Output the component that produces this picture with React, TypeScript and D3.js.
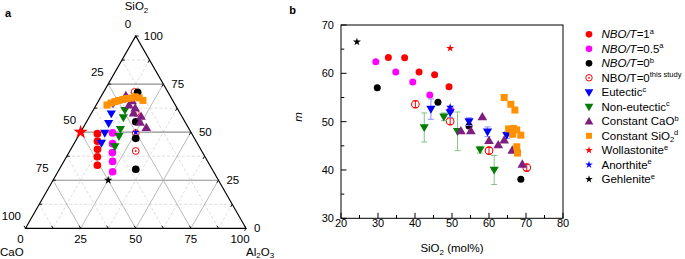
import React from 'react';
import * as d3 from 'd3';

// ---------- Panel a: ternary data [CaO, SiO2, Al2O3] (mol%) ----------
const terNbo1: number[][] = [[42.8, 49.2, 8.0], [44.7, 45.3, 10.0], [46.8, 41.1, 12.1], [48.8, 37.2, 14.0], [51.0, 32.8, 16.2]];
const terNbo05: number[][] = [[35.7, 49.6, 14.7], [38.5, 44.0, 17.5], [40.9, 39.4, 19.7], [43.1, 34.8, 22.1], [45.8, 29.4, 24.8]];
const terNbo0: number[][] = [[13.8, 70.7, 15.5], [22.3, 55.4, 22.3], [26.6, 46.8, 26.6], [34.65, 30.7, 34.65]];
const terThis: number[][] = [[15.1, 70.9, 14.0], [20, 60, 20], [25.25, 49.5, 25.25], [29.9, 40.2, 29.9]];
const terEut: number[][] = [[27.9, 64.8, 7.3], [31.3, 59.6, 9.1], [35.0, 54.6, 10.4], [39.3, 49.5, 11.2], [43.4, 44.3, 12.3]];
const terNonEut: number[][] = [[24.2, 61.4, 14.4], [26.8, 57.6, 15.6], [31.2, 51.5, 17.3], [33.7, 47.8, 18.5], [38.2, 42.5, 19.3]];
const terCaO: number[][] = [[20, 69, 11], [18.5, 66.3, 15.2], [21, 64.1, 14.9], [19, 62.5, 18.5], [21, 60, 19], [18.5, 58.2, 23.3], [20.5, 55.1, 24.4], [19, 52.4, 28.6]];
const terSiO2: number[][] = [[31.0, 64.1, 4.9], [28.7, 65.1, 6.2], [26.5, 65.9, 7.6], [24.4, 66.5, 9.1], [22.3, 67.0, 10.7], [20.2, 67.5, 12.3], [18.3, 67.7, 14.0], [16.1, 68.4, 15.5], [14.6, 67.8, 17.6], [13.5, 66.5, 20.0]];
const terWoll: number[] = [50, 50, 0];
const terAnor: number[] = [25, 50, 25];
const terGehl: number[] = [50, 25, 25];
const terTicks = [0, 25, 50, 75, 100];
const terGrid = [12.5, 25, 37.5, 50, 62.5, 75, 87.5];

// ---------- Panel b: SiO2 (mol%) vs m ----------
const bNbo1X = [32.8, 37.2, 41.1, 45.3, 49.2];
const bNbo1M = [63.3, 63.2, 60.3, 59.7, 57.2];
const bNbo05X = [29.4, 34.8, 39.4, 44.0, 49.6];
const bNbo05M = [62.4, 60.3, 58.2, 55.5, 52.4];
const bNbo0X = [29.8, 46.2, 54.6, 68.6];
const bNbo0M = [57.0, 54.0, 49.1, 38.1];
const bThisX = [40.1, 49.5, 60.0, 70.2];
const bThisM = [53.6, 50.1, 44.0, 40.5];
const bThisErr = [0.7, 0.7, 0.7, 0.7];
const bEutX = [44.3, 49.5, 54.6, 59.6, 64.8];
const bEutM = [52.6, 51.9, 50.0, 47.9, 47.2];
const bEutErr = [2.1, 1.0, 0.8, 1.0, 0.7];
const bNonX = [42.5, 47.8, 51.5, 57.6, 61.4];
const bNonM = [48.8, 51.0, 48.0, 44.2, 40.0];
const bNonErr = [3.0, 0.8, 4.0, 0.7, 3.0];
const bCaOX = [52.4, 55.1, 58.2, 60.0, 62.5, 64.1, 66.3, 69.0];
const bCaOM = [48.1, 48.1, 51.0, 46.1, 45.2, 46.2, 44.1, 41.2];
const bSiO2X = [64.1, 65.9, 67.0, 65.3, 66.6, 67.5, 66.4, 68.6, 67.5, 67.7];
const bSiO2M = [55.0, 53.6, 52.4, 48.5, 48.6, 48.3, 47.4, 47.2, 44.8, 43.5];
const bWoll = [49.5, 65.2];
const bAnor = [49.5, 53.0];
const bGehl = [24.3, 66.5];
const bXTicks = [20, 30, 40, 50, 60, 70, 80];
const bYTicks = [30, 40, 50, 60, 70];

const RED = '#ff0000';
const MAG = '#ff00ff';
const BLK = '#000000';
const BLUE = '#0000ff';
const GREEN = '#037d03';
const PURPLE = '#7e1e80';
const ORANGE = '#ff9000';
const FONT = '"Liberation Sans", Arial, Helvetica, sans-serif';

type Kind = 'circle' | 'open' | 'tridown' | 'triup' | 'square' | 'star';

function Marker({ kind, x, y, color, s = 1, starSize = 18 }: { kind: Kind; x: number; y: number; color: string; s?: number; starSize?: number }) {
  if (kind === 'circle') return <circle cx={x} cy={y} r={3.5 * s} fill={color} />;
  if (kind === 'open')
    return (
      <g>
        <circle cx={x} cy={y} r={3.4 * s} fill="#fff" stroke={color} strokeWidth={1} />
        <circle cx={x} cy={y} r={0.9} fill={color} />
      </g>
    );
  if (kind === 'tridown')
    return <path transform={`translate(${x},${y}) scale(${s})`} d="M-4.6,-3.3L4.6,-3.3L0,4.6Z" fill={color} />;
  if (kind === 'triup')
    return <path transform={`translate(${x},${y}) scale(${s})`} d="M-4.6,3.3L4.6,3.3L0,-4.6Z" fill={color} />;
  if (kind === 'square') return <rect x={x - 3.5 * s} y={y - 3.5 * s} width={7 * s} height={7 * s} fill={color} />;
  const p = d3.symbol(d3.symbolStar, starSize)() as string;
  return <path transform={`translate(${x},${y})`} d={p} fill={color} />;
}

// ternary scales
const tx = d3.scaleLinear().domain([0, 100]).range([25.5, 246]);
const ty = d3.scaleLinear().domain([0, 100]).range([228.3, 36]);
function tern(p: number[]): [number, number] {
  const sum = p[0] + p[1] + p[2];
  const s = (p[1] / sum) * 100;
  const a = (p[2] / sum) * 100;
  return [tx(a + s / 2), ty(s)];
}

function Ternary() {
  const A = tern([100, 0, 0]);
  const B = tern([0, 0, 100]);
  const C = tern([0, 100, 0]);
  const lines: React.ReactNode[] = [];
  terGrid.forEach((v, i) => {
    const solid = i % 2 === 1;
    const segs: [number[], number[]][] = [
      [[100 - v, v, 0], [0, v, 100 - v]],
      [[v, 100 - v, 0], [v, 0, 100 - v]],
      [[0, 100 - v, v], [100 - v, 0, v]],
    ];
    segs.forEach((sg, j) => {
      const p1 = tern(sg[0]);
      const p2 = tern(sg[1]);
      lines.push(
        <line
          key={`g${i}-${j}`}
          x1={p1[0]}
          y1={p1[1]}
          x2={p2[0]}
          y2={p2[1]}
          stroke={solid ? (j === 0 ? '#8f8f8f' : '#a8a8a8') : '#cfcfcf'}
          strokeWidth={solid ? (j === 0 ? 1.1 : 0.8) : 0.7}
          strokeDasharray={solid ? undefined : '3,2'}
        />
      );
    });
  });
  // side ticks
  const ticks: React.ReactNode[] = [];
  [0, 12.5, 25, 37.5, 50, 62.5, 75, 87.5, 100].forEach((v, i) => {
    const l = tern([v, 100 - v, 0]);
    ticks.push(<line key={`tl${i}`} x1={l[0]} y1={l[1]} x2={l[0] + 3} y2={l[1]} stroke="#000" strokeWidth={0.9} />);
    const b = tern([100 - v, 0, v]);
    ticks.push(<line key={`tb${i}`} x1={b[0]} y1={b[1]} x2={b[0] - 1.5} y2={b[1] - 2.6} stroke="#000" strokeWidth={0.9} />);
    const r = tern([0, v, 100 - v]);
    ticks.push(<line key={`tr${i}`} x1={r[0]} y1={r[1]} x2={r[0] - 1.5} y2={r[1] + 2.6} stroke="#000" strokeWidth={0.9} />);
  });
  const fs = 11.5;
  return (
    <g fontFamily={FONT}>
      <text x={5} y={17.3} fontSize={11} fontWeight="bold">a</text>
      {lines}
      <path d={`M${A[0]},${A[1]}L${B[0]},${B[1]}L${C[0]},${C[1]}Z`} fill="none" stroke="#000" strokeWidth={1.2} />
      {ticks}
      {/* left side: CaO */}
      {terTicks.map((v) => {
        const p = tern([v, 100 - v, 0]);
        return (
          <text key={`ll${v}`} x={p[0] - 4.5} y={p[1] - 12.5} dy="0.35em" fontSize={fs} textAnchor="end">{v}</text>
        );
      })}
      {/* right side: SiO2 */}
      {terTicks.map((v) => {
        const p = tern([0, v, 100 - v]);
        return (
          <text key={`rl${v}`} x={p[0] + 8} y={p[1]} dy="0.35em" fontSize={fs} textAnchor="start">{v}</text>
        );
      })}
      {/* bottom: Al2O3 */}
      {terTicks.map((v) => {
        const p = tern([100 - v, 0, v]);
        const dx = v === 0 ? -5 : v === 100 ? -6 : 0;
        return (
          <text key={`bl${v}`} x={p[0] + dx} y={p[1] + 11} dy="0.35em" fontSize={fs} textAnchor="middle">{v}</text>
        );
      })}
      <text x={136.5} y={10.3} fontSize={fs} textAnchor="middle">
        SiO<tspan fontSize={8} dy={2.5}>2</tspan>
      </text>
      <text x={0} y={255.5} fontSize={fs}>CaO</text>
      <text x={246} y={255.5} fontSize={fs}>
        Al<tspan fontSize={8} dy={2.5}>2</tspan><tspan dy={-2.5}>O</tspan><tspan fontSize={8} dy={2.5}>3</tspan>
      </text>
      {/* data */}
      {terNbo1.map((p, i) => { const q = tern(p); return <Marker key={`a1${i}`} kind="circle" x={q[0]} y={q[1]} color={RED} s={1.1} />; })}
      {terNbo05.map((p, i) => { const q = tern(p); return <Marker key={`a2${i}`} kind="circle" x={q[0]} y={q[1]} color={MAG} s={1.1} />; })}
      {terThis.map((p, i) => { const q = tern(p); return <Marker key={`a4${i}`} kind="open" x={q[0]} y={q[1]} color={RED} />; })}
      {terNbo0.map((p, i) => { const q = tern(p); return <Marker key={`a3${i}`} kind="circle" x={q[0]} y={q[1]} color={BLK} s={1.1} />; })}
      {terEut.map((p, i) => { const q = tern(p); return <Marker key={`a5${i}`} kind="tridown" x={q[0]} y={q[1]} color={BLUE} s={1.0} />; })}
      {terNonEut.map((p, i) => { const q = tern(p); return <Marker key={`a6${i}`} kind="tridown" x={q[0]} y={q[1]} color={GREEN} s={1.0} />; })}
      {terCaO.map((p, i) => { const q = tern(p); return <Marker key={`a7${i}`} kind="triup" x={q[0]} y={q[1]} color={PURPLE} s={1.05} />; })}
      {terSiO2.map((p, i) => { const q = tern(p); return <Marker key={`a8${i}`} kind="square" x={q[0]} y={q[1]} color={ORANGE} s={1.0} />; })}
      {(() => { const q = tern(terWoll); return <Marker kind="star" x={q[0]} y={q[1]} color={RED} starSize={62} />; })()}
      {(() => { const q = tern(terAnor); return <Marker kind="star" x={q[0]} y={q[1]} color={BLUE} starSize={16} />; })()}
      {(() => { const q = tern(terGehl); return <Marker kind="star" x={q[0]} y={q[1]} color={BLK} starSize={22} />; })()}
    </g>
  );
}

const xB = d3.scaleLinear().domain([20, 80]).range([341, 563]);
const yB = d3.scaleLinear().domain([30, 70]).range([218.3, 25]);

function ErrBars({ xs, ms, es, color, cap = 3 }: { xs: number[]; ms: number[]; es: number[]; color: string; cap?: number }) {
  return (
    <g stroke={color} strokeWidth={1} fill="none">
      {xs.map((x, i) => {
        const X = xB(x);
        const y1 = yB(ms[i] - es[i]);
        const y2 = yB(ms[i] + es[i]);
        return (
          <g key={i}>
            <line x1={X} x2={X} y1={y1} y2={y2} />
            <line x1={X - cap} x2={X + cap} y1={y1} y2={y1} />
            <line x1={X - cap} x2={X + cap} y1={y2} y2={y2} />
          </g>
        );
      })}
    </g>
  );
}

function PanelB() {
  const x0 = xB.range()[0], x1 = xB.range()[1];
  const y0 = yB.range()[0], y1 = yB.range()[1];
  const xt = xB.ticks(12);
  const yt = yB.ticks(8);
  return (
    <g fontFamily={FONT}>
      <text x={289.3} y={14.3} fontSize={11} fontWeight="bold">b</text>
      <rect x={x0} y={y1} width={x1 - x0} height={y0 - y1} fill="none" stroke="#000" strokeWidth={1} />
      {xt.map((v) => (
        <line key={`xt${v}`} x1={xB(v)} x2={xB(v)} y1={y0} y2={y0 - (v % 10 === 0 ? 5.5 : 3.3)} stroke="#000" strokeWidth={1} />
      ))}
      {yt.map((v) => (
        <line key={`yt${v}`} x1={x0} x2={x0 + (v % 10 === 0 ? 5.5 : 3.3)} y1={yB(v)} y2={yB(v)} stroke="#000" strokeWidth={1} />
      ))}
      {bXTicks.map((v) => (
        <text key={`xl${v}`} x={xB(v)} y={226.8} fontSize={11} textAnchor="middle">{v}</text>
      ))}
      {bYTicks.map((v) => (
        <text key={`yl${v}`} x={334} y={yB(v)} dy="0.36em" fontSize={11} textAnchor="end">{v}</text>
      ))}
      <text x={452} y={252} fontSize={11.5} textAnchor="middle">
        SiO<tspan fontSize={8} dy={2.5}>2</tspan><tspan dy={-2.5}> (mol%)</tspan>
      </text>
      <text transform="translate(301.5,117) rotate(-90)" fontSize={11.5} fontStyle="italic" textAnchor="middle">m</text>

      {bNbo1X.map((x, i) => <Marker key={`r${i}`} kind="circle" x={xB(x)} y={yB(bNbo1M[i])} color={RED} />)}
      {bNbo05X.map((x, i) => <Marker key={`m${i}`} kind="circle" x={xB(x)} y={yB(bNbo05M[i])} color={MAG} />)}
      {bNbo0X.map((x, i) => <Marker key={`k${i}`} kind="circle" x={xB(x)} y={yB(bNbo0M[i])} color={BLK} />)}
      {bThisX.map((x, i) => (
        <circle key={`o${i}`} cx={xB(x)} cy={yB(bThisM[i])} r={3.8} fill="#fff" stroke={RED} strokeWidth={1.1} />
      ))}
      <ErrBars xs={bThisX} ms={bThisM} es={bThisErr} color={RED} cap={2} />
      <ErrBars xs={bEutX} ms={bEutM} es={bEutErr} color="#8a8aff" />
      {bEutX.map((x, i) => <Marker key={`e${i}`} kind="tridown" x={xB(x)} y={yB(bEutM[i])} color={BLUE} />)}
      <ErrBars xs={bNonX} ms={bNonM} es={bNonErr} color="#86c086" />
      {bNonX.map((x, i) => <Marker key={`n${i}`} kind="tridown" x={xB(x)} y={yB(bNonM[i])} color={GREEN} />)}
      {bCaOX.map((x, i) => <Marker key={`c${i}`} kind="triup" x={xB(x)} y={yB(bCaOM[i])} color={PURPLE} s={1.05} />)}
      {bSiO2X.map((x, i) => <Marker key={`s${i}`} kind="square" x={xB(x)} y={yB(bSiO2M[i])} color={ORANGE} />)}
      <Marker kind="star" x={xB(bWoll[0])} y={yB(bWoll[1])} color={RED} starSize={20} />
      <Marker kind="star" x={xB(bAnor[0])} y={yB(bAnor[1])} color={BLUE} starSize={20} />
      <Marker kind="star" x={xB(bGehl[0])} y={yB(bGehl[1])} color={BLK} starSize={20} />
    </g>
  );
}

function Legend() {
  const mx = 589;
  const tx0 = 601.5;
  const y0 = 34.3;
  const step = 14.5;
  const fs = 11.5;
  const sup = (t: string) => <tspan fontSize={7.5} dy={-4.5}>{t}</tspan>;
  const rows: { kind: Kind; color: string; label: React.ReactNode }[] = [
    { kind: 'circle', color: RED, label: <><tspan fontStyle="italic">NBO/T</tspan>=1{sup('a')}</> },
    { kind: 'circle', color: MAG, label: <><tspan fontStyle="italic">NBO/T</tspan>=0.5{sup('a')}</> },
    { kind: 'circle', color: BLK, label: <><tspan fontStyle="italic">NBO/T</tspan>=0{sup('b')}</> },
    { kind: 'open', color: RED, label: <>NBO/T=0{sup('this study')}</> },
    { kind: 'tridown', color: BLUE, label: <>Eutectic{sup('c')}</> },
    { kind: 'tridown', color: GREEN, label: <>Non-eutectic{sup('c')}</> },
    { kind: 'triup', color: PURPLE, label: <>Constant CaO{sup('b')}</> },
    {
      kind: 'square',
      color: ORANGE,
      label: (
        <>
          Constant SiO<tspan fontSize={7.5} dy={2.5}>2</tspan>
          <tspan fontSize={7.5} dy={-7}>d</tspan>
        </>
      ),
    },
    { kind: 'star', color: RED, label: <>Wollastonite{sup('e')}</> },
    { kind: 'star', color: BLUE, label: <>Anorthite{sup('e')}</> },
    { kind: 'star', color: BLK, label: <>Gehlenite{sup('e')}</> },
  ];
  return (
    <g fontFamily={FONT}>
      {rows.map((r, i) => {
        const y = y0 + i * step;
        return (
          <g key={i}>
            <Marker kind={r.kind} x={mx} y={y} color={r.color} s={r.kind === 'square' ? 0.85 : 0.95} starSize={18} />
            <text x={tx0} y={y + 4} fontSize={fs}>{r.label}</text>
          </g>
        );
      })}
    </g>
  );
}

export default function App() {
  return (
    <svg
      width={685}
      height={259}
      viewBox="0 0 685 259"
      style={{ position: 'absolute', left: 0, top: 0, background: '#fff' }}
    >
      <rect width={685} height={259} fill="#fff" />
      <Ternary />
      <PanelB />
      <Legend />
    </svg>
  );
}
